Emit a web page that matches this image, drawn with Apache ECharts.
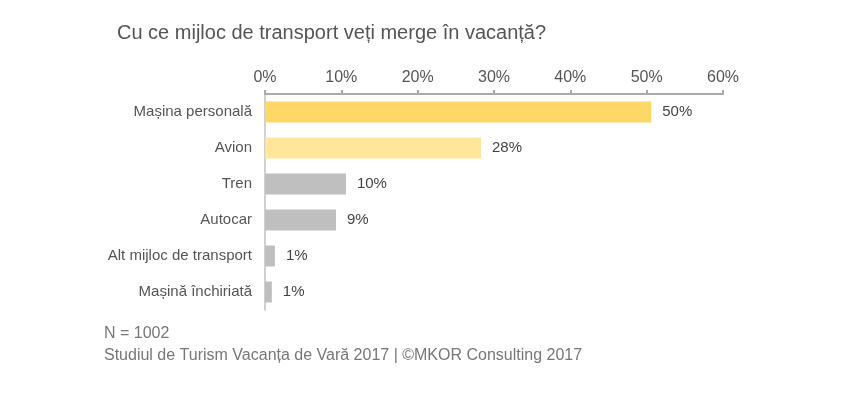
<!DOCTYPE html>
<html>
<head>
<meta charset="utf-8">
<script src="https://cdn.jsdelivr.net/npm/echarts@6/dist/echarts.min.js"></script>
<style>
  html, body { margin: 0; padding: 0; background: #fff; }
  #chart { width: 851px; height: 399px; }
</style>
</head>
<body>
<div id="chart"></div>
<script>
// date
var categories = ['Mașina personală', 'Avion', 'Tren', 'Autocar', 'Alt mijloc de transport', 'Mașină închiriată']
var values = [50.6, 28.3, 10.6, 9.3, 1.3, 0.9]
var labels = ['50%', '28%', '10%', '9%', '1%', '1%']
var barColors = ['#FDD866', '#FFE699', '#BFBFBF', '#BFBFBF', '#BFBFBF', '#BFBFBF']

var chart = echarts.init(document.getElementById('chart'))
var font = 'Liberation Sans, Arial, sans-serif'

chart.setOption({
  animation: false,
  textStyle: { fontFamily: font },
  title: [{
    text: 'Cu ce mijloc de transport veți merge în vacanță?',
    left: 112,
    top: 18,
    textStyle: { fontSize: 20, fontWeight: 'normal', color: '#555', fontFamily: font }
  }, {
    text: 'N = 1002',
    left: 99,
    top: 321,
    textStyle: { fontSize: 16, fontWeight: 'normal', color: '#777', fontFamily: font }
  }, {
    text: 'Studiul de Turism Vacanța de Vară 2017 | ©MKOR Consulting 2017',
    left: 99,
    top: 343,
    textStyle: { fontSize: 16, fontWeight: 'normal', color: '#777', fontFamily: font }
  }],
  grid: {
    left: 265,
    top: 94,
    width: 458,
    height: 216
  },
  xAxis: {
    type: 'value',
    position: 'top',
    min: 0,
    max: 60,
    interval: 10,
    axisLine: { show: true, lineStyle: { color: '#AAAAAA', width: 2 } },
    axisTick: { show: true, length: 4, lineStyle: { color: '#AAAAAA', width: 2 } },
    splitLine: { show: false },
    axisLabel: { formatter: '{value}%', color: '#555', fontSize: 16, margin: 8 }
  },
  yAxis: {
    type: 'category',
    inverse: true,
    data: categories,
    axisLine: { show: true, lineStyle: { color: '#D0D0D0', width: 2 } },
    axisTick: { show: false },
    axisLabel: { color: '#555', fontSize: 15, margin: 13 }
  },
  series: [{
    type: 'bar',
    barWidth: 21,
    data: values.map(function (v, i) {
      return { value: v, itemStyle: { color: barColors[i] } }
    }),
    label: {
      show: true,
      position: 'right',
      distance: 11,
      color: '#444',
      fontSize: 15,
      formatter: function (p) { return labels[p.dataIndex] }
    }
  }]
})
</script>
</body>
</html>
